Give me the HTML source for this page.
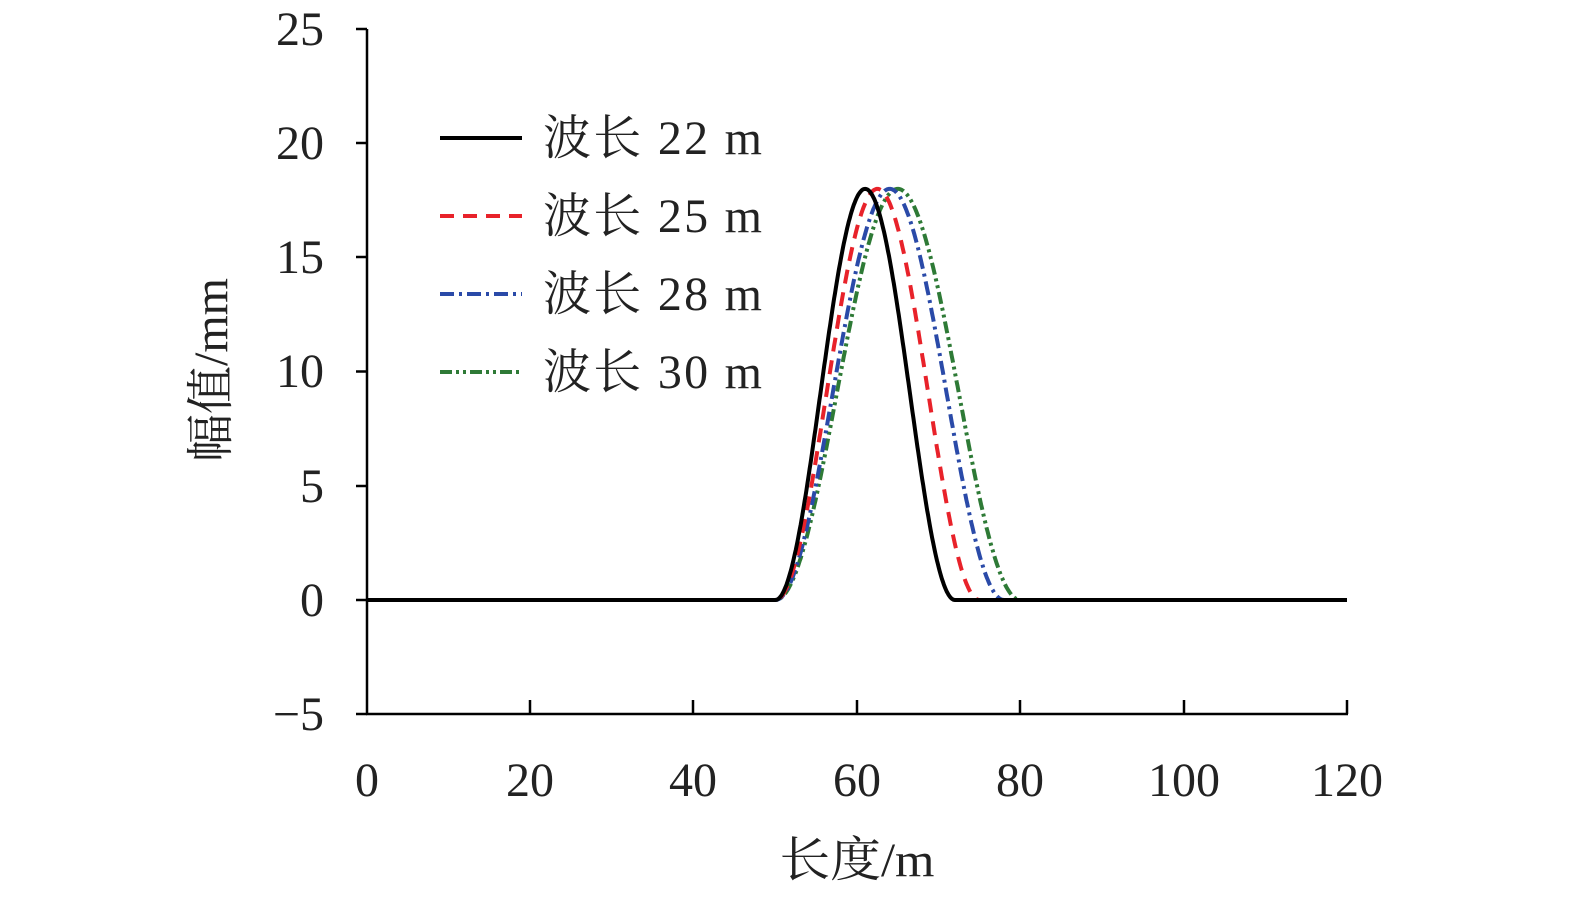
<!DOCTYPE html>
<html><head><meta charset="utf-8"><style>
html,body{margin:0;padding:0;background:#fff;overflow:hidden;width:1575px;height:899px;}
svg{display:block;font-family:"Liberation Serif","Noto Serif CJK SC",serif;}
</style></head><body>
<svg id="s" width="1575" height="899" viewBox="0 0 1575 899">
<g stroke="#000" stroke-width="2.5" fill="none">
<line x1="367" y1="29" x2="367" y2="715"/>
<line x1="366" y1="714" x2="1348" y2="714"/>
<line x1="356" y1="29" x2="367" y2="29"/>
<line x1="356" y1="143" x2="367" y2="143"/>
<line x1="356" y1="257" x2="367" y2="257"/>
<line x1="356" y1="371.5" x2="367" y2="371.5"/>
<line x1="356" y1="486" x2="367" y2="486"/>
<line x1="356" y1="600" x2="367" y2="600"/>
<line x1="356" y1="714" x2="367" y2="714"/>
<line x1="530" y1="700" x2="530" y2="714"/>
<line x1="693" y1="700" x2="693" y2="714"/>
<line x1="857" y1="700" x2="857" y2="714"/>
<line x1="1020" y1="700" x2="1020" y2="714"/>
<line x1="1184" y1="700" x2="1184" y2="714"/>
<line x1="1347" y1="700" x2="1347" y2="714"/>
</g>
<g font-size="48" text-anchor="end" fill="#222">
<text x="324" y="45">25</text><text x="324" y="159">20</text><text x="324" y="273">15</text>
<text x="324" y="387">10</text><text x="324" y="502">5</text><text x="324" y="616">0</text><text x="324" y="730">−5</text>
</g>
<g font-size="48" text-anchor="middle" fill="#222">
<text x="367" y="796">0</text><text x="530" y="796">20</text><text x="693" y="796">40</text><text x="857" y="796">60</text>
<text x="1020" y="796">80</text><text x="1184" y="796">100</text><text x="1347" y="796">120</text>
<text x="857" y="876" textLength="155" lengthAdjust="spacingAndGlyphs">长度/m</text>
<text transform="translate(227,370) rotate(-90)">幅值/mm</text>
</g>
<g id="curves" fill="none" stroke-width="4"></g>
<g stroke-width="4">
<line x1="440" y1="138" x2="522" y2="138" stroke="#000"/>
<line x1="440" y1="216" x2="522" y2="216" stroke="#e8222a" stroke-dasharray="14,9"/>
<line x1="440" y1="294" x2="522" y2="294" stroke="#2a4aa8" stroke-dasharray="14,5,3,5"/>
<line x1="440" y1="372" x2="522" y2="372" stroke="#2e7a36" stroke-dasharray="12,4,3,4,3,4"/>
</g>
<g font-size="48" fill="#222">
<text x="543" y="154" textLength="219" lengthAdjust="spacing">波长 22 m</text><text x="543" y="232" textLength="219" lengthAdjust="spacing">波长 25 m</text>
<text x="543" y="310" textLength="219" lengthAdjust="spacing">波长 28 m</text><text x="543" y="388" textLength="219" lengthAdjust="spacing">波长 30 m</text>
</g>
</svg>
<script>
var g=document.getElementById('curves');
var S=[[30,'#2e7a36','12,4,3,4,3,4'],[28,'#2a4aa8','14,5,3,5'],[25,'#e8222a','14,9'],[22,'#000','']];
S.forEach(function(s){var L=s[0],d='';
for(var x=0;x<=120;x+=0.1){var v=0;if(x>50&&x<50+L)v=9*(1-Math.cos(2*Math.PI*(x-50)/L));
var px=367+x*980/120,py=600-v*22.84;d+=(d?'L':'M')+px.toFixed(1)+','+py.toFixed(1);}
var p=document.createElementNS('http://www.w3.org/2000/svg','path');p.setAttribute('d',d);p.setAttribute('stroke',s[1]);
if(s[2])p.setAttribute('stroke-dasharray',s[2]);g.appendChild(p);});
</script>
</body></html>
